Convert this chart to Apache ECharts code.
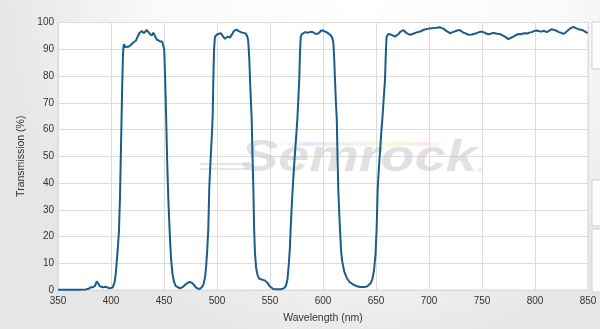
<!DOCTYPE html>
<html>
<head>
<meta charset="utf-8">
<script src="https://cdn.jsdelivr.net/npm/echarts@6/dist/echarts.min.js"></script>
<style>
html,body{margin:0;padding:0;background:#fff;}
#chart{width:600px;height:329px;}
</style>
</head>
<body>
<div id="chart"></div>
<script>
// Wavelength (nm)
var wavelengths = [
350,360,370,376,379,381,383,385,386.5,388,389.5,391,392.5,394,395.5,397,398.5,400,401.5,402.5,403.5,404.5,405.3,406.5,407.5,408.5,409.5,410.5,411.3,411.8,412.3,413.2,414.2,416,417.9,419.5,421,422.3,423.6,425,426.7,428,429,430,431.1,432.3,433.6,435,436.1,437.3,438.4,439.2,439.9,441,442.1,443.3,444.6,446,447.2,448.3,449.4,450.2,451,452,453,454,455,455.8,456.8,458,459.5,461,462.5,465,468,471,474,476,478,480,482,484,486,487.5,488.8,489.8,490.8,491.8,492.7,493.6,494.5,495.4,496,496.5,497.2,498.1,499,500.3,502,503.5,504.5,505.4,506.5,507.5,508.8,510.1,511.2,512.3,513.5,514.8,516,517,518.3,519.5,520.5,521.7,523,524.2,525.3,526.4,527.3,528,528.8,529.5,530.5,531.5,532.7,533.5,534.3,535,535.8,537,538.5,540,541.5,543,545,546.5,548,549.5,551,553,556,560,563,565,566.5,567.8,568.8,569.5,570.5,571.4,572.5,573.7,574.8,575.8,576.7,577.6,578.3,579,580,581.4,583,584.6,586,587.1,588.2,589.3,590.5,591.8,593.2,594.6,596,597.2,598.3,599.4,600.7,601.9,603.5,605,606.6,608.2,609.2,609.8,610.5,611.3,612.2,613,613.7,614.4,615.2,616,617,618,620,622.4,625,628.6,632,635,638,641,643,645,646.5,648,649.5,650.6,651.6,652.8,654,655,656,657.2,658.5,659.3,660,660.8,661.6,663,664.7,666.3,667.9,669.5,671,672.6,674.2,675.8,677.3,678.9,680.5,682.1,683.6,685.2,686.8,688.3,690,691.5,693,694.6,696.2,697.8,699.3,700.9,702.5,704.1,705.7,707.2,708.8,710.4,712,713.5,715.1,716.7,718.3,719.8,721.4,723,724.5,726,727.3,728.6,730.5,732.4,734.7,737.1,738.7,740.5,742.8,745,747.3,749.7,751.8,754,756,758.2,760.3,762.3,764.5,767,769.3,771.7,773.3,774.8,777,779.6,782,784.3,786.5,788.7,790.6,792.8,795,796.9,799.2,801.6,804,806.3,808.6,811,813.3,815.7,818,820.5,822.5,824.5,826.7,829,831.4,833.8,836.2,838.5,840.9,843.2,845.6,847.6,849.7,850
];
// Transmission (%)
var transmission = [
0.1,0.1,0.1,0.2,0.5,1.0,1.0,1.6,3.2,2.4,1.4,1.8,1.0,0.5,1.2,1.3,0.6,0.8,0.9,1.6,3.0,6,10,16,22,35,55,75,88,91,91.9,90.8,90.4,90.9,91.3,91.9,92.5,92.9,93.3,94.6,96.0,96.6,96.8,96.4,96.0,96.7,97.2,96.6,96.0,95.4,95.1,95.8,96.2,95.4,94.4,93.6,93.3,93.0,93.3,92.8,92.9,90,80,65,48,35,25,18,11,6,3,1.5,0.8,0.6,1.2,2.3,3.0,2.8,2.0,1.0,0.5,0.5,1.1,2.5,5,9,15,23,38,46,53,60,66,78,89.8,94.7,95.4,95.6,95.9,96.0,95.6,95.0,94.3,93.9,94.4,94.7,94.5,94.4,95.2,96.0,96.9,97.5,97.3,97.0,96.8,96.6,96.3,96.0,96.1,96.2,95.8,95.4,94.5,92.9,86,75,64,50,38,23,14,8,5.2,4.2,3.9,3.8,3.6,3.3,2.5,1.5,0.8,0.4,0.3,0.3,0.6,1.5,4,10,16,23,31,38,45,52,58,64,71,78.7,89,94.7,95.6,96.0,96.4,96.5,96.2,96.2,96.5,96.6,96.4,96.2,95.7,95.4,96.0,96.6,97.0,97.2,96.9,96.6,96.3,96.0,95.5,94.7,93.6,92.2,87,78.7,70,64,50,38,30,23,15,11,7,4.5,3,2,1.4,1.1,1.1,1.2,1.8,2.6,4,7,13,23,38,46,53,59,64,71,78.7,89,94.7,95.4,95.7,95.6,95.4,95.0,94.7,95.1,95.6,96.4,96.9,97.2,96.6,96.0,95.7,95.4,95.6,95.8,96.0,96.3,96.4,96.6,97.0,97.2,97.5,97.6,97.7,97.8,97.6,97.9,97.8,98.0,97.9,98.2,98.0,97.7,97.2,96.8,96.3,96.0,96.2,96.5,96.6,96.9,97.1,97.2,96.8,96.2,95.9,95.4,95.2,95.5,95.8,96.0,96.4,96.6,96.3,95.9,95.6,95.8,96.1,96.0,95.8,95.7,95.2,94.7,94.1,93.8,94.2,94.7,95.3,95.7,95.6,95.9,96.0,95.9,96.3,96.4,96.8,97.0,96.7,96.6,96.9,96.4,96.9,97.5,97.2,96.9,96.4,96.2,95.7,96.3,97.2,97.9,98.4,97.9,97.5,97.3,97.0,96.5,96.0,95.9
];
var xTicks = [350,400,450,500,550,600,650,700,750,800,850];
var yTicks = [0,10,20,30,40,50,60,70,80,90,100];
var xTitle = 'Wavelength (nm)';
var yTitle = 'Transmission (%)';
var watermarkText = 'Semrock';

var seriesData = wavelengths.map(function (w, i) { return [w, transmission[i]]; });

var chart = echarts.init(document.getElementById('chart'), null, {renderer: 'canvas'});
var FONT = 'Liberation Sans, Arial, sans-serif';
chart.setOption({
  animation: false,
  backgroundColor: {
    type: 'radial', x: 0.6, y: 0.0, r: 1.1,
    colorStops: [{offset: 0, color: '#ffffff'}, {offset: 0.55, color: '#fafafa'}, {offset: 1, color: '#e6e6e6'}]
  },
  grid: {
    left: 58, right: 12, top: 22.5, bottom: 37,
    show: true, backgroundColor: '#ffffff', borderColor: '#d6d6d6', borderWidth: 1
  },
  xAxis: {
    type: 'value', min: xTicks[0], max: xTicks[xTicks.length - 1], interval: 50,
    name: xTitle, nameLocation: 'middle', nameGap: 23,
    nameTextStyle: {color: '#333', fontSize: 10.5, fontFamily: FONT},
    axisLine: {show: false}, axisTick: {show: false},
    axisLabel: {color: '#333', fontSize: 10, fontFamily: FONT, margin: 6},
    splitLine: {show: true, lineStyle: {color: '#dcdcdc', width: 1}}
  },
  yAxis: {
    type: 'value', min: yTicks[0], max: yTicks[yTicks.length - 1], interval: 10,
    name: yTitle, nameLocation: 'middle', nameGap: 30, nameRotate: 90,
    nameTextStyle: {color: '#333', fontSize: 10.5, fontFamily: FONT},
    axisLine: {show: false}, axisTick: {show: false},
    axisLabel: {color: '#333', fontSize: 10, fontFamily: FONT, margin: 4},
    splitLine: {show: true, lineStyle: {color: '#dcdcdc', width: 1}}
  },
  graphic: [
    {type: 'rect', z: 0, shape: {x: 592, y: 22, width: 20, height: 47}, style: {fill: '#fff', stroke: '#cfcfcf', lineWidth: 1}},
    {type: 'rect', z: 0, shape: {x: 592, y: 180, width: 20, height: 46}, style: {fill: '#fff', stroke: '#cfcfcf', lineWidth: 1}},
    {type: 'rect', z: 0, shape: {x: 592, y: 229, width: 20, height: 63}, style: {fill: '#fff', stroke: '#cfcfcf', lineWidth: 1}},
    {type: 'rect', z: 1, shape: {x: 268, y: 142, width: 185, height: 4},
      style: {opacity: 0.35, fill: {type: 'linear', x: 0, y: 0, x2: 1, y2: 0, colorStops: [
        {offset: 0, color: 'rgba(255,255,255,0)'}, {offset: 0.2, color: '#b8b8ff'}, {offset: 0.45, color: '#b8f0b8'},
        {offset: 0.65, color: '#f8f0a0'}, {offset: 0.85, color: '#ffb8b8'}, {offset: 1, color: 'rgba(255,255,255,0)'}]}}},
    {type: 'rect', z: 1, shape: {x: 200, y: 163, width: 50, height: 2}, style: {fill: '#e6e6e6'}},
    {type: 'rect', z: 1, shape: {x: 200, y: 168, width: 48, height: 2}, style: {fill: '#e6e6e6'}},
    {type: 'text', z: 1, x: 241, y: 136, scaleX: 1.24,
      style: {text: watermarkText, fill: 'rgba(200,200,200,0.55)', font: 'italic bold 45px ' + FONT}},
    {type: 'text', z: 1, x: 477, y: 167,
      style: {text: '\u00AE', fill: 'rgba(200,200,200,0.6)', font: '8px ' + FONT}}
  ],
  series: [{
    type: 'line', data: seriesData, showSymbol: false, symbol: 'none', smooth: false, z: 3,
    lineStyle: {color: '#1d5b8b', width: 2}
  }]
});
</script>
</body>
</html>
